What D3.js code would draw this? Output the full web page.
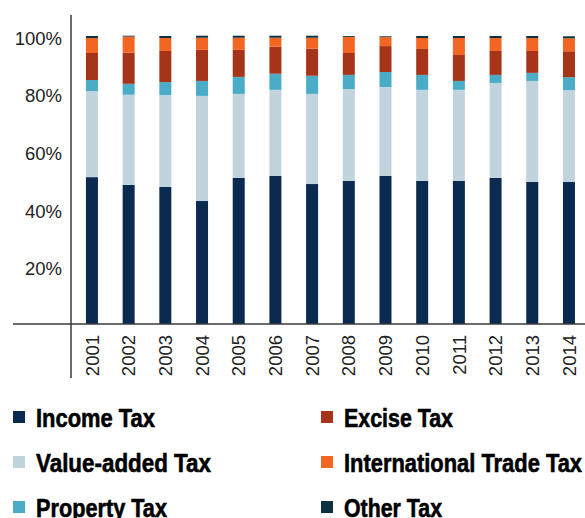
<!DOCTYPE html>
<html>
<head>
<meta charset="utf-8">
<script src="https://cdn.jsdelivr.net/npm/d3@7"></script>
<style>
  html, body { margin: 0; padding: 0; background: #fff; }
  svg { display: block; }
</style>
</head>
<body>
<svg id="chart" width="585" height="518"></svg>
<script>
const years = ["2001","2002","2003","2004","2005","2006","2007","2008","2009","2010","2011","2012","2013","2014"];
const seriesNames = ["Income Tax","Value-added Tax","Property Tax","Excise Tax","International Trade Tax","Other Tax"];
const incomeTax    = [51.0, 48.3, 47.6, 42.7, 50.7, 51.4, 48.6, 49.7, 51.4, 49.7, 49.7, 50.7, 49.3, 49.3];
const valueAdded   = [29.9, 31.3, 31.9, 36.5, 29.2, 29.9, 31.3, 31.9, 30.9, 31.6, 31.6, 33.0, 35.1, 31.9];
const propertyTax  = [ 3.8,  3.8,  4.5,  5.2,  5.9,  5.6,  6.3,  4.9,  5.2,  5.2,  3.1,  2.8,  2.8,  4.5];
const exciseTax    = [ 9.4, 10.8, 10.8, 10.8,  9.4,  9.4,  9.4,  7.6,  9.0,  9.0,  9.0,  8.3,  7.6,  9.0];
const intlTradeTax = [ 5.2,  5.6,  4.5,  4.2,  4.2,  3.1,  3.8,  5.6,  3.1,  3.8,  5.9,  4.5,  4.5,  4.5];
const otherTax     = [ 0.7,  0.3,  0.7,  0.7,  0.7,  0.7,  0.7,  0.3,  0.3,  0.7,  0.7,  0.7,  0.7,  0.7];
const yTicks = [20, 40, 60, 80, 100];
const colors = ["#0b2a4f", "#c1d4dd", "#4aacc6", "#a63419", "#f26522", "#0c3241"];

const seriesValues = [incomeTax, valueAdded, propertyTax, exciseTax, intlTradeTax, otherTax];
const table = years.map((yr, i) => {
  const row = { year: yr };
  seriesNames.forEach((s, k) => { row[s] = seriesValues[k][i]; });
  return row;
});

const svg = d3.select("#chart");
const x = d3.scaleBand().domain(years).range([73.6, 587.3]).paddingInner(0.673).paddingOuter(0.3365);
const y = d3.scaleLinear().domain([0, 100]).range([324, 36]);
const color = d3.scaleOrdinal().domain(seriesNames).range(colors);

const stacked = d3.stack().keys(seriesNames)(table);

svg.append("g").selectAll("g").data(stacked).join("g")
  .attr("fill", d => color(d.key))
  .selectAll("rect").data(d => d).join("rect")
  .attr("x", d => x(d.data.year))
  .attr("width", x.bandwidth())
  .attr("y", d => y(d[1]))
  .attr("height", d => y(d[0]) - y(d[1]));

// axis lines
svg.append("line").attr("x1", 71).attr("x2", 71).attr("y1", 15).attr("y2", 378)
  .attr("stroke", "#3a3a3a").attr("stroke-width", 1.5);
svg.append("line").attr("x1", 13).attr("x2", 585).attr("y1", y(0)).attr("y2", y(0))
  .attr("stroke", "#3a3a3a").attr("stroke-width", 1.5);

const fontTick = "'Liberation Sans', Arial, sans-serif";
const yAxis = svg.append("g").attr("transform", "translate(62,0)")
  .call(d3.axisLeft(y).tickValues(yTicks).tickSize(0).tickPadding(0).tickFormat(d => d + "%"));
yAxis.select(".domain").remove();
yAxis.selectAll("text").attr("font-size", 18.5).attr("font-family", fontTick).attr("fill", "#222").attr("dy", "0.45em");

const xAxis = svg.append("g").attr("transform", `translate(0,${y(0)})`)
  .call(d3.axisBottom(x).tickSize(0).tickPadding(0));
xAxis.select(".domain").remove();
xAxis.selectAll("text")
  .attr("font-size", 18.5).attr("font-family", fontTick).attr("fill", "#222")
  .attr("transform", "rotate(-90)")
  .attr("text-anchor", "end")
  .attr("x", -11).attr("y", 0).attr("dy", "0.36em");

// legend (layout)
const legendPos = [[13, 417], [13, 462], [13, 507], [321, 417], [321, 462], [321, 507]];
const legendTextWidth = [119, 175, 131, 109, 238, 98];
const legend = svg.append("g").selectAll("g").data(seriesNames).join("g")
  .attr("transform", (d, i) => `translate(${legendPos[i][0]},${legendPos[i][1]})`);
legend.append("rect").attr("x", 0).attr("y", -6).attr("width", 12).attr("height", 12).attr("fill", d => color(d));
legend.append("text").attr("x", 23).attr("y", 9.5)
  .attr("font-family", "'Liberation Sans', Arial, sans-serif")
  .attr("font-weight", "bold").attr("font-size", 26).attr("fill", "#000")
  .attr("stroke", "#000").attr("stroke-width", 0.6)
  .attr("textLength", (d, i) => legendTextWidth[i])
  .attr("lengthAdjust", "spacingAndGlyphs")
  .text(d => d);
</script>
</body>
</html>
